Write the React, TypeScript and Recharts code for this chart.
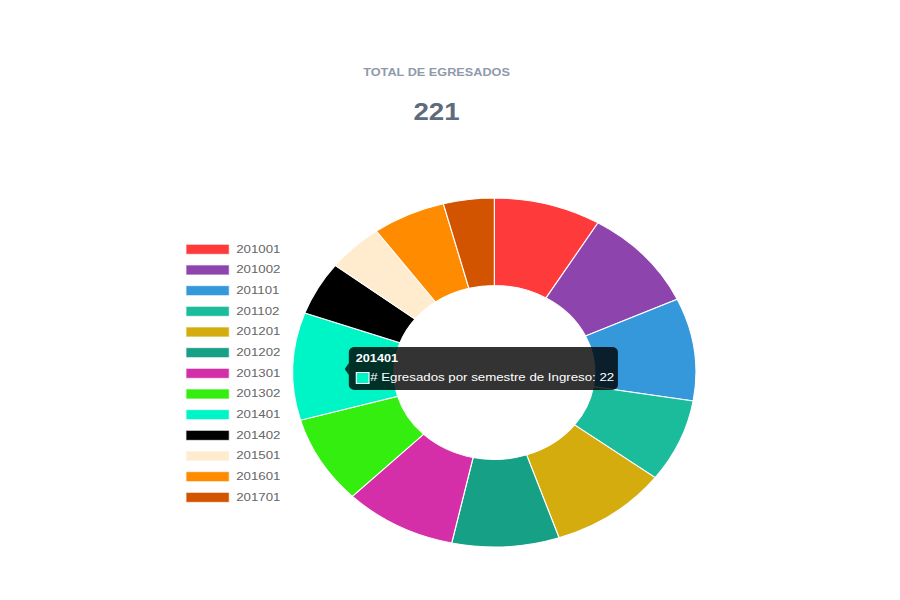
import React from 'react';
import { PieChart, Pie, Cell } from 'recharts';

// values (Chart.js doughnut, canvas stretched horizontally)
const semesters = [
  '201001', '201002', '201101', '201102', '201201', '201202', '201301',
  '201302', '201401', '201402', '201501', '201601', '201701',
];
const graduates = [19, 21, 21, 17, 21, 19, 20, 18, 22, 11, 10, 13, 9];
const colors = [
  '#ff3a3a', '#8e44ad', '#3498db', '#1abc9c', '#d4ac0d', '#16a085', '#d42fa8',
  '#33ee0e', '#00f5c6', '#000000', '#ffebcd', '#ff8c00', '#d35400',
];
const titleText = 'TOTAL DE EGRESADOS';
const seriesName = '# Egresados por semestre de Ingreso';
const hoveredIndex = 8;

const data = semesters.map((name, i) => ({ name, value: graduates[i] }));
const total = graduates.reduce((a, b) => a + b, 0);

const STRETCH = 1.155; // the original canvas is drawn wider than tall
const FONT = "'Liberation Sans', Arial, Helvetica, sans-serif";

const Legend: React.FC = () => (
  <g>
    {semesters.map((s, i) => {
      const y = 244.3 + i * 20.67;
      return (
        <g key={s}>
          <rect x={161} y={y} width={37.5} height={10} fill={colors[i]} stroke="rgba(255,255,255,0.7)" strokeWidth={1} />
          <text x={204.5} y={y + 8.5} fontSize={11.5} fill="#666" fontFamily={FONT}>
            {s}
          </text>
        </g>
      );
    })}
  </g>
);

const HoverTip: React.FC = () => {
  const x = 302;
  const y = 347;
  const w = 233;
  const h = 43;
  return (
    <g>
      <rect x={x} y={y} width={w} height={h} rx={5} fill="rgba(0,0,0,0.8)" />
      <path d={`M${x},${y + 16} L${x - 3.5},${y + 22} L${x},${y + 28} Z`} fill="rgba(0,0,0,0.8)" />
      <text x={x + 6} y={y + 14.7} fontSize={11} fontWeight="bold" fill="#fff" fontFamily={FONT}>
        {semesters[hoveredIndex]}
      </text>
      <rect x={x + 6.5} y={y + 25.5} width={11} height={11} fill={colors[hoveredIndex]} stroke="#fff" strokeWidth={1} />
      <text x={x + 18.5} y={y + 33.7} fontSize={11.5} fill="#fff" fontFamily={FONT}>
        {`${seriesName}: ${graduates[hoveredIndex]}`}
      </text>
    </g>
  );
};

export default function App() {
  return (
    <div style={{ position: 'absolute', left: 0, top: 0, width: 900, height: 600, overflow: 'hidden', background: '#fff' }}>
      <div
        style={{
          position: 'relative',
          width: 780,
          height: 600,
          transform: `scaleX(${STRETCH})`,
          transformOrigin: '0 0',
        }}
      >
        <PieChart width={780} height={600} margin={{ top: 0, right: 0, bottom: 0, left: 0 }}>
          <Pie
            data={data}
            dataKey="value"
            nameKey="name"
            cx={428}
            cy={372.5}
            outerRadius={174.5}
            innerRadius={87}
            startAngle={90}
            endAngle={-270}
            stroke="#fff"
            strokeWidth={1}
            isAnimationActive={false}
          >
            {data.map((entry, index) => (
              <Cell key={`cell-${index}`} fill={colors[index]} />
            ))}
          </Pie>
        </PieChart>
        <svg width={780} height={600} style={{ position: 'absolute', left: 0, top: 0, pointerEvents: 'none' }}>
          <text x={378} y={76} textAnchor="middle" fontSize={11} fontWeight="bold" fill="#8e9aab" fontFamily={FONT}>
            {titleText}
          </text>
          <text x={378} y={120.5} textAnchor="middle" fontSize={24} fontWeight="bold" fill="#5d6b7b" fontFamily={FONT}>
            {total}
          </text>
          <Legend />
          <HoverTip />
        </svg>
      </div>
    </div>
  );
}
